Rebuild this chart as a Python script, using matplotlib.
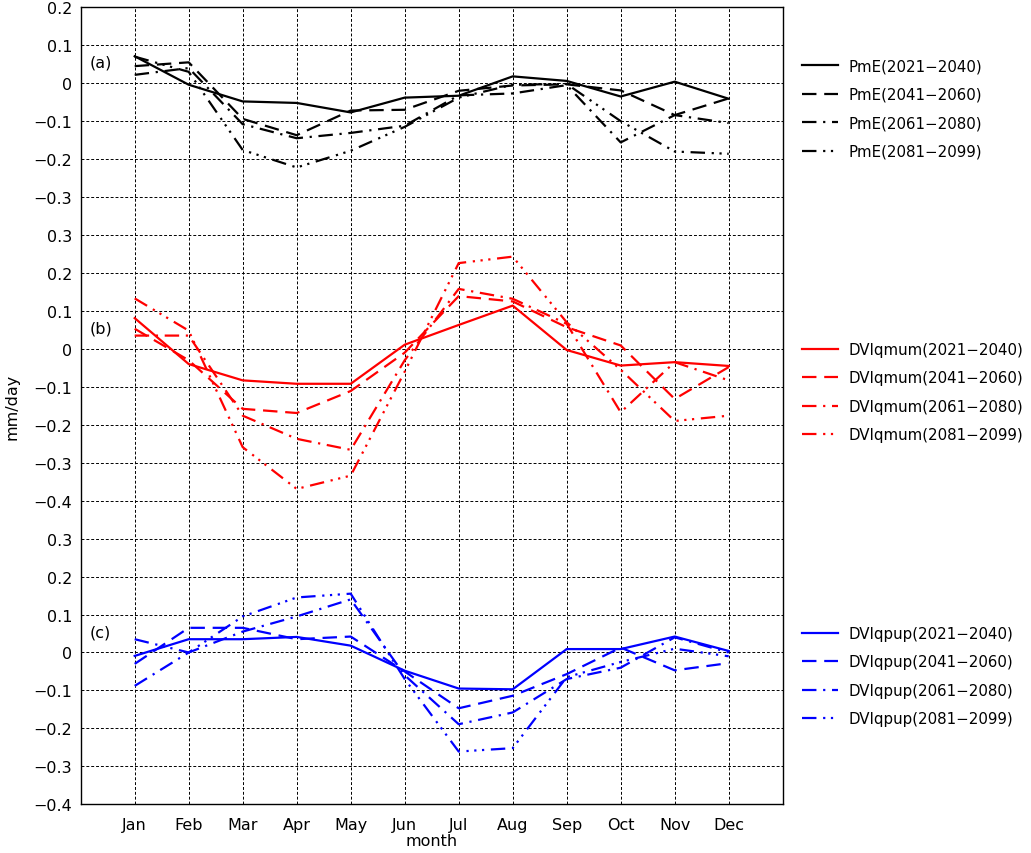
import matplotlib
matplotlib.use('Agg')
import matplotlib.pyplot as plt
import numpy as np

plt.rcParams['font.family'] = 'DejaVu Sans'

months = ['Jan', 'Feb', 'Mar', 'Apr', 'May', 'Jun', 'Jul', 'Aug', 'Sep', 'Oct', 'Nov', 'Dec']
periods = ['2021-2040', '2041-2060', '2061-2080', '2081-2099']

# (a) PmE
pme_2021 = [0.071, -0.004, -0.048, -0.052, -0.077, -0.038, -0.033, 0.018, 0.006, -0.035, 0.004, -0.041]
pme_2041 = [0.045, 0.055, -0.094, -0.137, -0.072, -0.070, -0.020, -0.006, -0.003, -0.019, -0.084, -0.040]
pme_2061 = [0.022, 0.040, -0.108, -0.145, -0.131, -0.112, -0.032, -0.027, -0.005, -0.156, -0.084, -0.105]
pme_2081 = [0.070, 0.030, -0.176, -0.222, -0.178, -0.115, -0.038, -0.004, -0.002, -0.100, -0.180, -0.186]

# (b) DVIqmum
qmum_2021 = [0.081, -0.040, -0.083, -0.092, -0.092, 0.011, 0.063, 0.114, -0.003, -0.044, -0.035, -0.045]
qmum_2041 = [0.053, -0.030, -0.158, -0.169, -0.111, -0.010, 0.139, 0.125, 0.057, 0.009, -0.132, -0.048]
qmum_2061 = [0.035, 0.035, -0.176, -0.237, -0.266, -0.030, 0.158, 0.132, 0.066, -0.167, -0.035, -0.083]
qmum_2081 = [0.133, 0.048, -0.259, -0.369, -0.334, -0.060, 0.226, 0.243, 0.070, -0.055, -0.190, -0.176]

# (c) DVIqpup
qpup_2021 = [-0.009, 0.035, 0.035, 0.041, 0.018, -0.048, -0.095, -0.097, 0.009, 0.009, 0.042, 0.004]
qpup_2041 = [-0.030, 0.065, 0.065, 0.035, 0.042, -0.050, -0.147, -0.114, -0.057, 0.013, -0.047, -0.028]
qpup_2061 = [-0.088, 0.000, 0.055, 0.095, 0.140, -0.060, -0.189, -0.158, -0.070, -0.040, 0.040, 0.000]
qpup_2081 = [0.035, 0.000, 0.095, 0.145, 0.155, -0.070, -0.261, -0.252, -0.065, -0.025, 0.010, -0.010]

# panels are stacked on one axis with these offsets
panels = [
    ('PmE', 'black', 1.5, '(a)', [pme_2021, pme_2041, pme_2061, pme_2081]),
    ('DVIqmum', 'red', 0.8, '(b)', [qmum_2021, qmum_2041, qmum_2061, qmum_2081]),
    ('DVIqpup', 'blue', 0.0, '(c)', [qpup_2021, qpup_2041, qpup_2061, qpup_2081]),
]
styles = ['-', (0, (6.5, 3.5)), (0, (6.5, 3, 1, 3)), (0, (6.5, 3, 1, 2.5, 1, 2.5, 1, 3))]
legend_y = [1 - 109.5 / 854, 1 - 393 / 854, 1 - 677 / 854]
fs = 11.5
lfs = 10.8

fig = plt.figure(figsize=(10.31, 8.54), dpi=100)
ax = fig.add_axes([80.7 / 1031, 1 - 805.3 / 854, 702 / 1031, 797 / 854])

x = np.arange(1, 13)
legends = []
for i, (name, col, off, tag, series) in enumerate(panels):
    handles = []
    for vals, ls in zip(series, styles):
        ln, = ax.plot(x, np.array(vals) + off, color=col, lw=1.6, linestyle=ls)
        handles.append(ln)
    ax.text(0.17, off + 0.055, tag, fontsize=fs, va='center', ha='left')
    labels = ['%s(%s)' % (name, p.replace('-', '\u2212')) for p in periods]
    leg = ax.legend(handles, labels, loc='center left', bbox_to_anchor=(801.7 / 1031, legend_y[i]),
                    bbox_transform=fig.transFigure, frameon=False, fontsize=lfs,
                    handlelength=2.45, handletextpad=0.7, labelspacing=0.9,
                    borderpad=0, borderaxespad=0)
    legends.append(leg)
for leg in legends[:-1]:
    ax.add_artist(leg)

ax.set_xlim(0, 13)
ax.set_ylim(-0.4, 1.7)
ax.set_xticks(x)
ax.set_xticklabels(months)

yt = np.round(np.arange(-0.4, 1.71, 0.1), 2)
ylabels = []
for t in yt:
    if t < 0.35:
        v = t
    elif t < 1.15:
        v = t - 0.8
    else:
        v = t - 1.5
    v = round(v, 1)
    s = '0' if v == 0 else ('%.1f' % v).replace('-', '\u2212')
    ylabels.append(s)
ax.set_yticks(yt)
ax.set_yticklabels(ylabels)

ax.tick_params(axis='both', length=0, labelsize=fs)
ax.tick_params(axis='y', pad=6)
ax.tick_params(axis='x', pad=9)
ax.grid(True, color='black', linestyle=(0, (3, 2)), lw=0.7)
ax.set_axisbelow(True)
for sp in ax.spines.values():
    sp.set_linewidth(1.0)

ax.set_xlabel('month', fontsize=fs, labelpad=1)
ax.set_ylabel('mm/day', fontsize=fs, labelpad=10)

fig.savefig('out.png', dpi=100)
